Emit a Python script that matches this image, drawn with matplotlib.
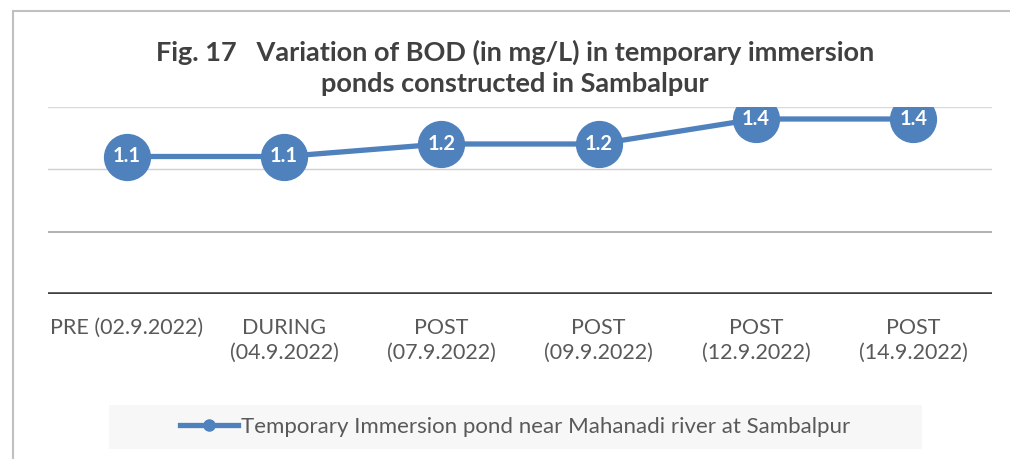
import matplotlib
matplotlib.use("Agg")
import matplotlib.pyplot as plt
from matplotlib.patches import Rectangle
from matplotlib.lines import Line2D

# Data
categories = ["PRE (02.9.2022)", "DURING\n(04.9.2022)", "POST\n(07.9.2022)",
              "POST\n(09.9.2022)", "POST\n(12.9.2022)", "POST\n(14.9.2022)"]
bod_values = [1.1, 1.1, 1.2, 1.2, 1.4, 1.4]
series_name = "Temporary Immersion pond near Mahanadi river at Sambalpur"
title = "Fig. 17   Variation of BOD (in mg/L) in temporary immersion\nponds constructed in Sambalpur"

BLUE = "#4f81bd"
TEXT = "#595959"

plt.rcParams["font.family"] = ["Lato", "DejaVu Sans"]

W, H = 1010, 459
fig = plt.figure(figsize=(W / 100, H / 100), dpi=100)

# outer chart border (left and top visible)
fig.add_artist(Line2D([13 / W, 13 / W], [0, 1 - 11 / H], transform=fig.transFigure,
                      color="#c0c0c0", lw=1.5))
fig.add_artist(Line2D([13 / W, 1], [1 - 11 / H, 1 - 11 / H], transform=fig.transFigure,
                      color="#c0c0c0", lw=1.5))

ax = fig.add_axes([48 / W, 1 - 294 / H, 944 / W, (294 - 106.5) / H])
x = list(range(len(categories)))

# gridlines
ax.axhline(1.5, color="#d9d9d9", lw=1, zorder=0)
ax.axhline(1.0, color="#d0d0d0", lw=1, zorder=0)
ax.axhline(0.5, color="#a6a6a6", lw=1.2, zorder=0)
ax.axhline(0.0, color="#404040", lw=2.6, zorder=1)

ax.plot(x, bod_values, color=BLUE, lw=3.8, marker="o", markersize=33,
        markerfacecolor=BLUE, markeredgecolor=BLUE, zorder=3)
for xi, v in zip(x, bod_values):
    ax.text(xi, v, f"{v:.1f}", ha="center", va="center", color="white",
            fontsize=14.5, fontweight="bold", zorder=4)

ax.set_xlim(-0.5, len(categories) - 0.5)
ax.set_ylim(0, 1.5)
ax.set_yticks([])
ax.set_xticks(x)
ax.set_xticklabels(categories, fontsize=15.5, color=TEXT, linespacing=1.35, va="top")
ax.tick_params(axis="x", length=0, pad=17)
for s in ax.spines.values():
    s.set_visible(False)
ax.patch.set_alpha(0)

fig.text(0.51, 1 - 68 / H, title, ha="center", va="center", fontsize=19.5,
         fontweight="bold", color="#404040", linespacing=1.33)

# legend
fig.add_artist(Rectangle((109 / W, 1 - 449 / H), (922 - 109) / W, 44 / H,
                         transform=fig.transFigure, facecolor="#f7f7f7",
                         edgecolor="none", zorder=0))
handle = Line2D([], [], color=BLUE, lw=3.8, marker="o", markersize=8)
fig.legend([handle], [series_name], loc="center", bbox_to_anchor=(515 / W, 1 - 427 / H),
           frameon=False, fontsize=16, labelcolor=TEXT, handlelength=2.6,
           handletextpad=0.15)

fig.savefig("out.png", dpi=100, facecolor="white")
